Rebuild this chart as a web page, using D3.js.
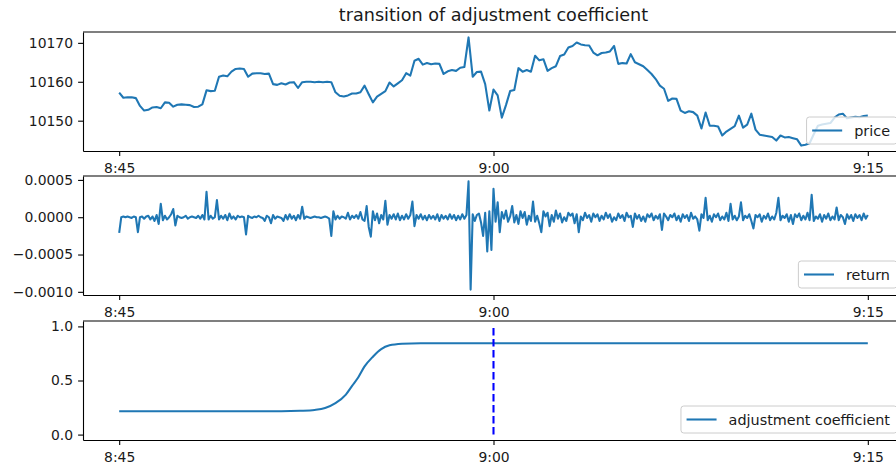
<!DOCTYPE html>
<html>
<head>
<meta charset="utf-8">
<script src="https://cdn.jsdelivr.net/npm/d3@7"></script>
<style>
  html, body { margin: 0; padding: 0; background: #fff; overflow: hidden; }
  svg { display: block; }
</style>
</head>
<body>
<svg id="chart" width="896" height="467"></svg>
<script>
// ---- data -------------------------------------------------------------
// time is counted in seconds from 8:45:00
const timeTicks = [0, 900, 1800];
const timeTickLabels = ["8:45", "9:00", "9:15"];

// price, one reading every 10 seconds
const PRICE_STEP = 10;
const priceValues = [
  10157.2, 10155.9, 10156.0, 10156.0, 10155.8, 10153.8, 10152.6, 10152.8, 10153.4, 10153.5,
  10153.2, 10154.7, 10154.6, 10153.6, 10154.1, 10154.2, 10154.1, 10154.0, 10153.5, 10153.6,
  10154.2, 10157.8, 10157.6, 10157.7, 10161.3, 10161.6, 10161.4, 10162.6, 10163.3, 10163.4,
  10163.3, 10161.3, 10162.1, 10162.2, 10162.2, 10162.0, 10162.1, 10159.4, 10159.2, 10159.6,
  10159.3, 10159.8, 10159.9, 10158.4, 10159.9, 10160.0, 10160.0, 10159.9, 10160.0, 10159.9,
  10160.0, 10159.9, 10157.3, 10156.4, 10156.2, 10156.5, 10157.0, 10157.0, 10157.3, 10159.0,
  10156.8, 10154.7, 10156.2, 10156.9, 10157.6, 10159.8, 10158.8, 10159.6, 10160.4, 10162.2,
  10161.6, 10165.4, 10165.9, 10164.4, 10164.8, 10164.5, 10164.7, 10164.6, 10162.0, 10162.7,
  10163.0, 10162.8, 10163.6, 10163.8, 10171.4, 10161.3, 10162.5, 10162.6, 10159.4, 10152.6,
  10158.0, 10156.5, 10150.8, 10154.0, 10157.6, 10157.9, 10163.5, 10162.6, 10163.0, 10162.6,
  10166.7, 10165.5, 10165.8, 10162.8, 10163.5, 10164.0, 10166.6, 10167.0, 10168.8, 10169.2,
  10170.1, 10169.6, 10169.4, 10169.3, 10167.5, 10166.8, 10167.4, 10167.5, 10167.8, 10169.2,
  10164.6, 10164.8, 10164.7, 10167.1, 10165.0, 10164.5, 10164.0, 10163.0, 10162.0, 10160.7,
  10159.0, 10158.2, 10155.1, 10155.7, 10155.6, 10152.6, 10152.0, 10152.4, 10152.2, 10151.3,
  10148.0, 10152.1, 10148.7, 10148.7, 10148.5, 10146.2, 10147.2, 10147.9, 10148.6, 10151.3,
  10148.2, 10149.0, 10151.8, 10147.7, 10146.4, 10146.2, 10146.0, 10145.8, 10144.9, 10146.2,
  10145.7, 10145.8, 10145.5, 10145.2, 10143.6, 10143.8, 10144.2, 10146.5, 10148.7, 10149.0,
  10149.2, 10149.4, 10150.8, 10151.6, 10151.8, 10150.6, 10150.8, 10151.0, 10150.9, 10151.2,
  10151.3
];

// return, one reading every 5 seconds, stored in units of 1e-5
const RETURN_STEP = 5;
const RETURN_UNIT = 1e-5;
const returnValues = [
  -21, 0, 1, 0, 1, 0, -1, 1, 0, -20, 0, 1, -2, 1, 2, -3, 1, -5, 3, -9,
  18, -4, 2, -3, 0, 4, 11, -11, 2, 0, -1, 0, 2, -2, 0, 1, 0, -1, 2, -2,
  3, -3, 34, -3, 2, -2, 0, 23, -3, 2, -2, 3, -4, 5, -2, 1, -3, 2, 0, 1,
  0, -23, 2, 0, -1, 1, 0, 2, 0, -1, -5, 2, 0, -8, 3, -2, 1, 0, -1, -5,
  3, -3, 4, -2, 2, -4, 3, -2, 14, -2, 1, 0, -1, 0, 1, 0, 0, -1, 0, 1,
  0, -2, -25, 8, -3, 2, -2, 1, 0, -2, 6, -3, 2, -1, 3, -2, 7, -3, -5, 15,
  -13, -26, 8, -4, 5, -8, 3, -3, 22, -10, 3, -2, 4, -3, 5, -4, 2, -3, 4, -2,
  3, 21, -12, 3, -2, 4, -3, 2, -4, 3, -2, 2, -3, 4, -5, 3, -2, 2, -3, 4,
  -2, 3, -4, 2, -3, 4, -2, 3, 48, -97, 4, -5, 3, 5, -7, -25, 6, -46, 8, -44,
  38, -6, 20, -20, 7, -2, 9, -6, 1, 15, -7, 3, -9, 8, -1, 7, -10, 2, -5, 21,
  -6, 2, -8, -20, 8, 1, 6, -12, 3, -6, 9, -2, 5, -7, 0, -5, 6, 2, 5, -8,
  4, -20, 1, -4, 6, -1, 3, -6, 5, 0, 4, -5, 2, -3, 6, -1, 4, -6, 0, -4,
  5, -1, 3, -5, 6, 0, 2, -13, 5, -2, 3, -5, 1, -6, 4, 0, 5, -4, 2, -2,
  4, -17, 5, 1, -4, 3, 0, 5, -4, 2, -6, 4, -1, 3, -5, 6, -2, 1, -3, -18,
  4, -1, 26, -4, 2, -6, 4, 0, 5, -4, 1, -3, 6, -5, 18, -3, 2, -4, 1, 20,
  -4, 2, -1, 4, -5, -15, 3, 0, 4, -6, 2, -2, 5, -4, 1, -3, 6, 26, -4, 2,
  -1, 4, -6, 3, -9, 4, 0, 5, -4, 2, -3, 6, -4, 30, -5, 1, -2, 4, -6, 3,
  -2, 5, -4, 1, -3, 13, -4, 3, 0, -9, 4, -2, 3, -5, 4, -1, 3, -4, 5, -2,
  3
];

// adjustment coefficient, key readings (seconds, value)
const adjTimes  = [0, 390, 435, 470, 495, 520, 545, 560, 575, 590, 610, 630, 650, 680, 725, 1800];
const adjValues = [0.215, 0.216, 0.22, 0.228, 0.245, 0.29, 0.37, 0.45, 0.53, 0.63, 0.72, 0.79, 0.825, 0.84, 0.845, 0.845];

const markerTime = 900;          // 9:00 reference line
const markerSpan = [0, 1];

const priceTicks  = [10150, 10160, 10170];
const returnTicks = [-0.0010, -0.0005, 0.0000, 0.0005];
const adjTicks    = [0.0, 0.5, 1.0];

const titleText = "transition of adjustment coefficient";

// ---- layout -----------------------------------------------------------
const FONT = "'DejaVu Sans', sans-serif";
const FS = 13.9;
const LEGEND_FS = 14.4;
const LINE = "#1f77b4";
const LW = 2.08;
const AX_LEFT = 83, AX_RIGHT = 904;
const TICK = 4.9;
const svg = d3.select("#chart");

const x = d3.scaleLinear().domain([-87, 1887]).range([AX_LEFT, AX_RIGHT]);

function padded(ext) {
  const d = (ext[1] - ext[0]) * 0.05;
  return [ext[0] - d, ext[1] + d];
}

let clipCount = 0;
function panel(top, bottom, yDomain, yTicks, yFmt, label) {
  const y = d3.scaleLinear().domain(yDomain).range([bottom, top]);
  const g = svg.append("g");

  const clipId = "clip" + (clipCount++);
  g.append("clipPath").attr("id", clipId)
    .append("rect").attr("x", AX_LEFT).attr("y", top)
    .attr("width", AX_RIGHT - AX_LEFT).attr("height", bottom - top);

  const plot = g.append("g").attr("clip-path", `url(#${clipId})`);

  // axes
  const yAxis = d3.axisLeft(y).tickValues(yTicks).tickFormat(yFmt)
    .tickSize(TICK).tickSizeOuter(0).tickPadding(5.1);
  const xAxis = d3.axisBottom(x).tickValues(timeTicks)
    .tickFormat((d, i) => timeTickLabels[i])
    .tickSize(TICK).tickSizeOuter(0).tickPadding(7.2);

  const ya = g.append("g").attr("transform", `translate(${AX_LEFT},0)`).call(yAxis);
  const xa = g.append("g").attr("transform", `translate(0,${bottom})`).call(xAxis);
  [ya, xa].forEach(a => {
    a.attr("font-family", FONT).attr("font-size", FS);
    a.selectAll("path.domain").attr("stroke", "#000").attr("stroke-width", 1.1);
    a.selectAll(".tick line").attr("stroke", "#000").attr("stroke-width", 1.1);
    a.selectAll(".tick text").attr("fill", "#1a1a1a");
  });
  // top spine
  g.append("line").attr("x1", AX_LEFT).attr("x2", AX_RIGHT)
    .attr("y1", top).attr("y2", top)
    .attr("stroke", "#000").attr("stroke-width", 1.1);

  return { g, plot, y, top, bottom, label };
}

function legend(p) {
  const lg = p.g.append("g");
  const t = lg.append("text").attr("font-family", FONT).attr("font-size", LEGEND_FS)
    .attr("fill", "#1a1a1a").text(p.label);
  const w = t.node().getComputedTextLength();
  const boxR = 897, boxH = 27;
  const boxW = 5.6 + 30 + 12 + w + 7;
  const boxL = boxR - boxW;
  const boxB = p.bottom - 7, boxT = boxB - boxH;
  const cy = boxT + boxH / 2;
  lg.insert("rect", "text")
    .attr("x", boxL).attr("y", boxT).attr("width", boxW).attr("height", boxH)
    .attr("rx", 2.8).attr("ry", 2.8)
    .attr("fill", "#fff").attr("fill-opacity", 0.8)
    .attr("stroke", "#cccccc").attr("stroke-width", 1);
  lg.insert("line", "text")
    .attr("x1", boxL + 5.6).attr("x2", boxL + 5.6 + 30)
    .attr("y1", cy).attr("y2", cy)
    .attr("stroke", LINE).attr("stroke-width", LW);
  t.attr("x", boxL + 5.6 + 30 + 12).attr("y", cy + 5);
}

// ---- panel 1: price ---------------------------------------------------
const p1 = panel(32, 151, padded(d3.extent(priceValues)), priceTicks, d3.format("d"), "price");
p1.plot.append("path")
  .datum(priceValues)
  .attr("fill", "none").attr("stroke", LINE).attr("stroke-width", LW)
  .attr("stroke-linejoin", "round")
  .attr("d", d3.line().x((d, i) => x(i * PRICE_STEP)).y(d => p1.y(d)));

svg.append("text")
  .attr("x", (AX_LEFT + AX_RIGHT) / 2).attr("y", 21)
  .attr("text-anchor", "middle")
  .attr("font-family", FONT).attr("font-size", 17.6).attr("fill", "#1a1a1a")
  .text(titleText);

// ---- panel 2: return --------------------------------------------------
const returns = returnValues.map(v => v * RETURN_UNIT);
const p2 = panel(176, 295, padded(d3.extent(returns)), returnTicks, d3.format(".4f"), "return");
p2.plot.append("path")
  .datum(returns)
  .attr("fill", "none").attr("stroke", LINE).attr("stroke-width", LW)
  .attr("stroke-linejoin", "round")
  .attr("d", d3.line().x((d, i) => x(i * RETURN_STEP)).y(d => p2.y(d)));

// ---- panel 3: adjustment coefficient ----------------------------------
const p3 = panel(321, 440, padded(markerSpan), adjTicks, d3.format(".1f"), "adjustment coefficient");
p3.plot.append("path")
  .datum(adjTimes.map((t, i) => [t, adjValues[i]]))
  .attr("fill", "none").attr("stroke", LINE).attr("stroke-width", LW)
  .attr("d", d3.line().curve(d3.curveMonotoneX).x(d => x(d[0])).y(d => p3.y(d[1])));
p3.plot.append("line")
  .attr("x1", x(markerTime)).attr("x2", x(markerTime))
  .attr("y1", p3.y(markerSpan[0])).attr("y2", p3.y(markerSpan[1]))
  .attr("stroke", "#0000ff").attr("stroke-width", LW)
  .attr("stroke-dasharray", "7.7,3.3");

[p1, p2, p3].forEach(legend);
</script>
</body>
</html>
